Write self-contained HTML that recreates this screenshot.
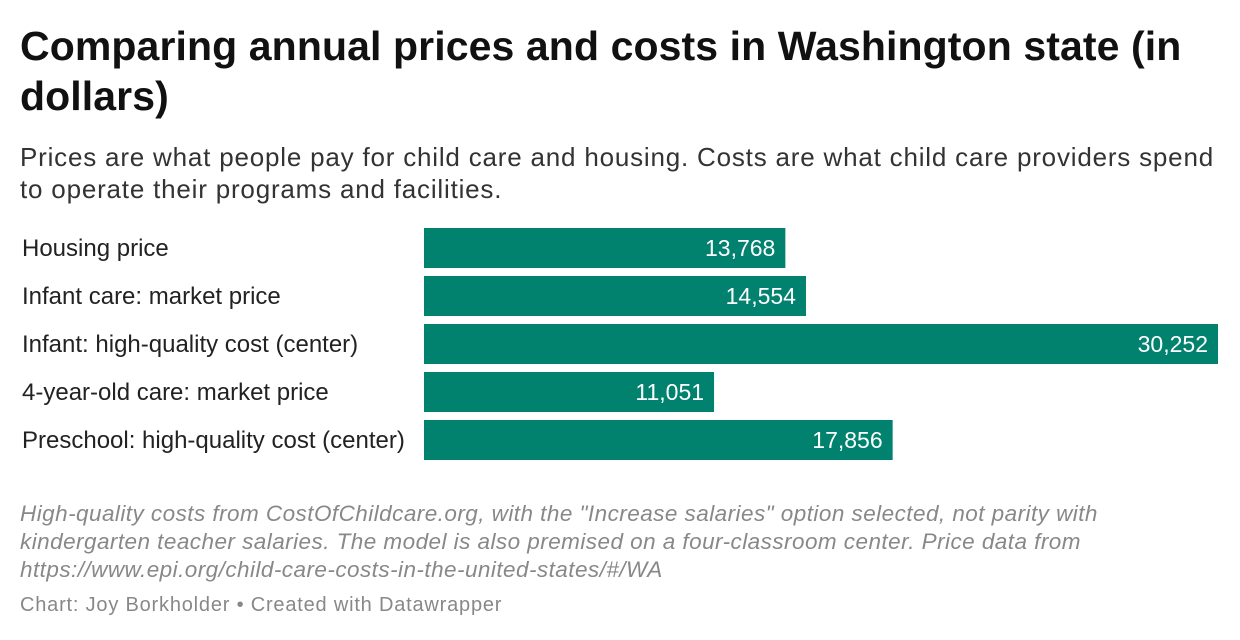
<!DOCTYPE html>
<html><head><meta charset="utf-8"><style>
body{margin:0;width:1240px;height:640px;background:#fff;font-family:"Liberation Sans",sans-serif;position:relative;overflow:hidden}
.t{position:absolute;left:20px;top:21px;width:1220px;font-size:41px;font-weight:bold;line-height:50px;color:#111;letter-spacing:0.1px;white-space:nowrap}
.s{position:absolute;left:20px;top:141px;width:1220px;font-size:26px;line-height:32px;color:#333;white-space:nowrap;letter-spacing:0.8px}
.f{position:absolute;left:20px;top:500px;width:1200px;font-size:22.5px;line-height:28px;color:#888;font-style:italic;white-space:nowrap;letter-spacing:0.45px}
.c{position:absolute;left:20px;top:594px;font-size:20px;color:#888;letter-spacing:0.8px}
</style></head><body>
<div class="t">Comparing annual prices and costs in Washington state (in<br>dollars)</div>
<div class="s">Prices are what people pay for child care and housing. Costs are what child care providers spend<br>to operate their programs and facilities.</div>
<svg id="ch" width="1240" height="640" style="position:absolute;left:0;top:0"></svg>
<div class="f">High-quality costs from CostOfChildcare.org, with the "Increase salaries" option selected, not parity with<br>kindergarten teacher salaries. The model is also premised on a four-classroom center. Price data from<br>https://www.epi.org/child-care-costs-in-the-united-states/#/WA</div>
<div class="c">Chart: Joy Borkholder • Created with Datawrapper</div>
<script>
const categories=["Housing price","Infant care: market price","Infant: high-quality cost (center)","4-year-old care: market price","Preschool: high-quality cost (center)"];
const values=[13768,14554,30252,11051,17856];
const svg=document.getElementById('ch');const NS='http://www.w3.org/2000/svg';
const x0=424,x1=1218,maxV=30252;
const xs=v=>x0+(x1-x0)*v/maxV;
const ys=i=>228+i*48;
categories.forEach((c,i)=>{
 const y=ys(i);
 const l=document.createElementNS(NS,'text');
 
 
 l.setAttribute('x',22);l.setAttribute('y',y+28);l.setAttribute('font-size','24');l.setAttribute('fill','#222');
 l.setAttribute('font-family','Liberation Sans, sans-serif');l.textContent=c;svg.appendChild(l);
 const r=document.createElementNS(NS,'rect');
 
 
 r.setAttribute('x',x0);r.setAttribute('y',y);r.setAttribute('width',xs(values[i])-x0);r.setAttribute('height',40);r.setAttribute('fill','#00826f');svg.appendChild(r);
 const v=document.createElementNS(NS,'text');
 
 
 v.setAttribute('x',xs(values[i])-10);v.setAttribute('y',y+28);v.setAttribute('text-anchor','end');v.setAttribute('font-size','23');v.setAttribute('fill','#fff');
 v.setAttribute('font-family','Liberation Sans, sans-serif');v.textContent=values[i].toLocaleString('en-US');svg.appendChild(v);
});
</script>
</body></html>
